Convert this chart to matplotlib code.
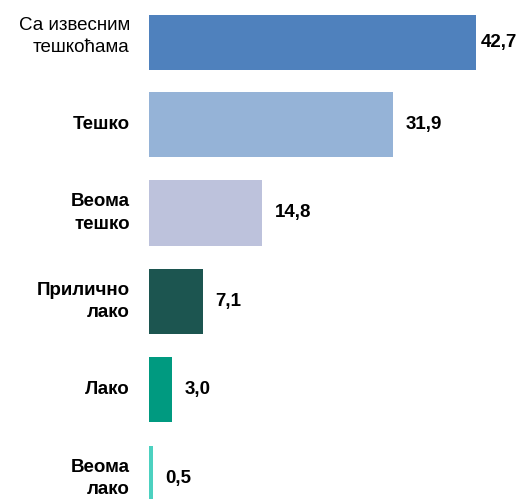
import numpy as np
import matplotlib.pyplot as plt

categories = ["Са извесним\nтешкоћама", "Тешко", "Веома\nтешко",
              "Прилично\nлако", "Лако", "Веома\nлако"]
values = [42.7, 31.9, 14.8, 7.1, 3.0, 0.5]
value_labels = ["42,7", "31,9", "14,8", "7,1", "3,0", "0,5"]

colors = ["#4F81BD", "#95B3D7", "#BDC2DC", "#1C5550", "#009A80", "#4CD1C0"]
positions = [0.073, 1, 2, 3, 4, 5]
heights = [0.62, 0.735, 0.735, 0.735, 0.735, 0.735]

plt.rcParams['font.family'] = ['Liberation Sans', 'DejaVu Sans']

fig = plt.figure(figsize=(5.26, 4.99), dpi=100)
ax = fig.add_axes([149 / 526, 0, 1 - 149 / 526, 1])

ax.barh(positions, values, height=heights, color=colors)

xmax = (526 - 149) / 7.66
ax.set_xlim(0, xmax)
ax.set_ylim(5.232, -0.407)

for p, v, lab in zip(positions, values, value_labels):
    ax.text(min(v + 1.6, xmax - 5.9), p, lab, va="center", ha="left",
            fontsize=13.5, color="black", fontweight="bold")

for i, (p, cat) in enumerate(zip(positions, categories)):
    y = p - 0.07 if i == 0 else p
    w = "normal" if i == 0 else "bold"
    ax.text(-2.5, y, cat, va="center", ha="right", fontsize=13.5,
            color="black", linespacing=1.4, fontweight=w, clip_on=False)

ax.axis("off")
fig.savefig("out.png", dpi=100)
